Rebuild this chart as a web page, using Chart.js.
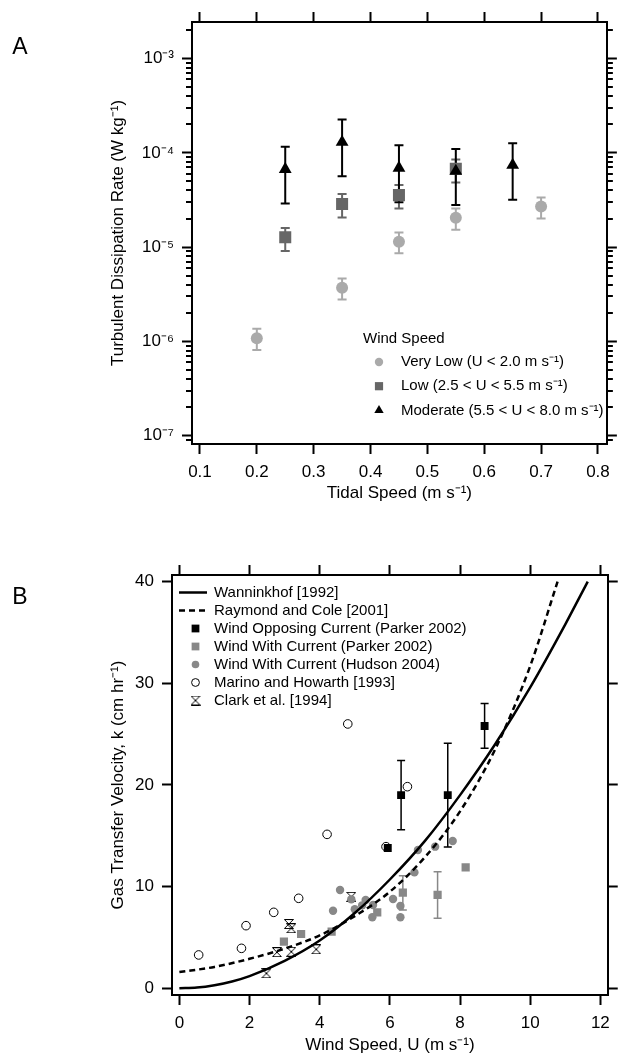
<!DOCTYPE html>
<html>
<head>
<meta charset="utf-8">
<script src="https://cdn.jsdelivr.net/npm/chart.js@4.4.1/dist/chart.umd.min.js"></script>
<style>
  body { margin: 0; background: #fff; }
  #wrap { position: relative; width: 618px; height: 1057px; }
  canvas { position: absolute; left: 0; }
  #panelA { top: 0; }
  #panelB { top: 530px; }
</style>
</head>
<body>
<div id="wrap">
  <canvas id="panelA" width="618" height="530"></canvas>
  <canvas id="panelB" width="618" height="527"></canvas>
</div>
<script>
//Panel A - dissipation rate vs tidal speed
const tidalTicks = [0.1, 0.2, 0.3, 0.4, 0.5, 0.6, 0.7, 0.8];
const tidalTickLabels = ['0.1', '0.2', '0.3', '0.4', '0.5', '0.6', '0.7', '0.8'];
const dissTicks = [1e-7, 1e-6, 1e-5, 1e-4, 1e-3];
const dissTickLabels = ['10⁻⁷', '10⁻⁶', '10⁻⁵', '10⁻⁴', '10⁻³'];

const veryLowTide = [0.2, 0.35, 0.45, 0.55, 0.7];
const veryLowDiss = [1.08e-6, 3.71e-6, 1.14e-5, 2.05e-5, 2.70e-5];
const veryLowErrLow = [8.1e-7, 2.79e-6, 8.6e-6, 1.53e-5, 2.01e-5];
const veryLowErrHigh = [1.36e-6, 4.66e-6, 1.43e-5, 2.57e-5, 3.36e-5];

const lowTide = [0.25, 0.35, 0.45, 0.55];
const lowDiss = [1.27e-5, 2.86e-5, 3.56e-5, 6.76e-5];
const lowErrLow = [9.1e-6, 2.06e-5, 2.57e-5, 4.85e-5];
const lowErrHigh = [1.60e-5, 3.65e-5, 4.57e-5, 8.5e-5];

const modTide = [0.25, 0.35, 0.45, 0.55, 0.65];
const modDiss = [6.7e-5, 1.30e-4, 6.9e-5, 6.4e-5, 7.4e-5];
const modErrLow = [2.9e-5, 5.66e-5, 3.0e-5, 2.79e-5, 3.18e-5];
const modErrHigh = [1.16e-4, 2.25e-4, 1.20e-4, 1.10e-4, 1.26e-4];

//Panel B - gas transfer velocity vs wind speed
const windTicks = [0, 2, 4, 6, 8, 10, 12];
const windTickLabels = ['0', '2', '4', '6', '8', '10', '12'];
const kTicks = [0, 10, 20, 30, 40];
const kTickLabels = ['0', '10', '20', '30', '40'];

const wanninkhofU = [0, 0.5, 1, 1.5, 2, 3, 4, 5, 6, 7, 8, 9, 10, 11, 11.64];
const wanninkhofK = [0, 0.07, 0.3, 0.67, 1.2, 2.7, 4.7, 7.4, 10.7, 14.5, 19.0, 24.0, 29.6, 35.8, 40.0];
const raymondU = [0, 1, 2, 3, 4, 5, 6, 7, 8, 9, 10, 10.78];
const raymondK = [1.6, 2.1, 2.9, 3.9, 5.2, 7.1, 9.5, 12.9, 17.4, 23.5, 31.7, 40.0];

const opposingU = [5.94, 6.32, 7.65, 8.70];
const opposingK = [13.8, 19.0, 19.0, 25.8];
const opposingErrLow = [null, 15.6, 13.9, 23.6];
const opposingErrHigh = [null, 22.4, 24.1, 28.0];

const withParkerU = [2.98, 3.47, 4.34, 5.64, 6.37, 7.36, 8.16];
const withParkerK = [4.59, 5.34, 5.57, 7.47, 9.40, 9.18, 11.9];
const withParkerErrLow = [null, null, null, null, 7.70, 6.88, null];
const withParkerErrHigh = [null, null, null, null, 11.08, 11.47, null];

const hudsonU = [4.38, 4.58, 4.90, 5.00, 5.21, 5.31, 5.50, 5.52, 6.09, 6.30, 6.30, 6.70, 6.80, 7.29, 7.79];
const hudsonK = [7.63, 9.67, 8.75, 7.77, 8.16, 8.69, 6.98, 8.19, 8.78, 8.10, 6.98, 11.4, 13.6, 13.93, 14.49];

const marinoU = [0.55, 1.77, 1.90, 2.69, 3.40, 4.21, 4.80, 5.89, 6.50];
const marinoK = [3.28, 3.93, 6.16, 7.47, 8.85, 15.14, 26.0, 13.93, 19.83];

const clarkU = [2.48, 2.78, 3.12, 3.19, 3.19, 3.90, 4.90];
const clarkK = [1.47, 3.55, 6.32, 5.90, 3.60, 3.83, 9.00];

Chart.defaults.font.family = "'Liberation Sans', Arial, sans-serif";
Chart.defaults.color = '#000';

function points(xs, ys) {
    return xs.map((x, i) => ({x: x, y: ys[i]}));
}

//open hourglass marker for Clark et al.
function hourglass(size) {
    const c = document.createElement('canvas');
    c.width = size;
    c.height = size;
    const g = c.getContext('2d');
    g.strokeStyle = '#000';
    g.lineWidth = 1;
    g.beginPath();
    g.moveTo(0.5, 0.5);
    g.lineTo(size - 0.5, 0.5);
    g.lineTo(0.5, size - 0.5);
    g.lineTo(size - 0.5, size - 0.5);
    g.closePath();
    g.stroke();
    return c;
}

//vertical error bars with caps
const errorBars = {
    id: 'errorBars',
    beforeDatasetsDraw(chart, args, opts) {
        const {ctx} = chart;
        const xs = chart.scales.x, ys = chart.scales.y;
        ctx.save();
        ctx.lineWidth = opts.width;
        chart.data.datasets.forEach(ds => {
            if (!ds.errLow) return;
            ctx.strokeStyle = ds.errColor;
            ds.data.forEach((p, i) => {
                if (ds.errLow[i] == null) return;
                const px = xs.getPixelForValue(p.x);
                const y1 = ys.getPixelForValue(ds.errLow[i]);
                const y2 = ys.getPixelForValue(ds.errHigh[i]);
                ctx.beginPath();
                ctx.moveTo(px, y1);
                ctx.lineTo(px, y2);
                ctx.moveTo(px - opts.cap, y1);
                ctx.lineTo(px + opts.cap, y1);
                ctx.moveTo(px - opts.cap, y2);
                ctx.lineTo(px + opts.cap, y2);
                ctx.stroke();
            });
        });
        ctx.restore();
    }
};

//minor ticks on log axis (2..9 x 10^n)
const minorTicks = {
    id: 'minorTicks',
    afterDraw(chart, args, opts) {
        if (!opts.enabled) return;
        const {ctx, chartArea} = chart;
        const ys = chart.scales.y;
        ctx.save();
        ctx.strokeStyle = '#000';
        ctx.lineWidth = 2;
        for (let e = -8; e <= -2; e++) {
            for (let m = 2; m <= 9; m++) {
                const v = m * Math.pow(10, e);
                if (v < ys.min || v > ys.max) continue;
                const py = Math.round(ys.getPixelForValue(v));
                ctx.beginPath();
                ctx.moveTo(chartArea.left - opts.length, py);
                ctx.lineTo(chartArea.left, py);
                ctx.moveTo(chartArea.right, py);
                ctx.lineTo(chartArea.right + opts.length, py);
                ctx.stroke();
            }
        }
        ctx.restore();
    }
};

//legend drawn inside the plot box, and the panel letter
const boxLegend = {
    id: 'boxLegend',
    afterDraw(chart, args, opts) {
        const {ctx} = chart;
        ctx.save();
        ctx.font = opts.font;
        ctx.textBaseline = 'middle';
        ctx.textAlign = 'left';
        ctx.fillStyle = '#000';
        if (opts.title) ctx.fillText(opts.title, opts.titleX, opts.titleY);
        let y = opts.y;
        chart.data.datasets.forEach(ds => {
            if (ds.showLine) {
                ctx.strokeStyle = ds.borderColor;
                ctx.lineWidth = ds.borderWidth;
                ctx.setLineDash(ds.borderDash || []);
                ctx.beginPath();
                ctx.moveTo(opts.lineX1, y);
                ctx.lineTo(opts.lineX2, y);
                ctx.stroke();
                ctx.setLineDash([]);
            } else {
                ctx.fillStyle = ds.pointBackgroundColor;
                ctx.strokeStyle = ds.pointBorderColor || '#000';
                ctx.lineWidth = ds.pointBorderWidth;
                Chart.helpers.drawPoint(ctx, {
                    pointStyle: ds.pointStyle,
                    radius: ds.legendRadius,
                    borderWidth: ds.pointBorderWidth,
                    rotation: 0
                }, opts.markerX, y);
            }
            ctx.fillStyle = '#000';
            ctx.fillText(ds.label, opts.textX, y);
            y += opts.rowHeight;
        });
        ctx.font = "23px 'Liberation Sans', Arial, sans-serif";
        ctx.textAlign = 'center';
        ctx.fillText(opts.letter, 20, opts.letterY);
        ctx.restore();
    }
};

function axis(type, position, min, max, ticks, labels, size, extra) {
    const horizontal = position === 'top' || position === 'bottom';
    const cfg = {
        type: type,
        position: position,
        min: min,
        max: max,
        afterBuildTicks: s => { s.ticks = ticks.map(v => ({value: v})); },
        afterFit: s => { if (horizontal) s.height = size; else s.width = size; },
        ticks: {
            display: !!labels,
            callback: (v, i) => labels ? labels[i] : '',
            autoSkip: false,
            maxRotation: 0,
            padding: 8,
            font: {size: 17}
        },
        grid: {drawOnChartArea: false, drawTicks: true, tickLength: 10, tickWidth: 2, tickColor: '#000'},
        border: {display: true, color: '#000', width: 2}
    };
    return Object.assign(cfg, extra || {});
}

//Panel A
new Chart(document.getElementById('panelA'), {
    type: 'scatter',
    data: {
        datasets: [
            {
                label: 'Very Low (U < 2.0 m s⁻¹)',
                data: points(veryLowTide, veryLowDiss),
                pointStyle: 'circle',
                pointRadius: 6,
                pointBackgroundColor: '#aaaaaa',
                pointBorderWidth: 0,
                legendRadius: 4.2,
                errLow: veryLowErrLow,
                errHigh: veryLowErrHigh,
                errColor: '#aaaaaa',
                order: 2
            },
            {
                label: 'Low (2.5 < U < 5.5 m s⁻¹)',
                data: points(lowTide, lowDiss),
                pointStyle: 'rect',
                pointRadius: 8.5,
                pointBackgroundColor: '#666666',
                pointBorderWidth: 0,
                legendRadius: 5.8,
                errLow: lowErrLow,
                errHigh: lowErrHigh,
                errColor: '#666666',
                order: 1
            },
            {
                label: 'Moderate (5.5 < U < 8.0 m s⁻¹)',
                data: points(modTide, modDiss),
                pointStyle: 'triangle',
                pointRadius: 7.4,
                pointBackgroundColor: '#000000',
                pointBorderWidth: 0,
                legendRadius: 5.4,
                errLow: modErrLow,
                errHigh: modErrHigh,
                errColor: '#000000',
                order: 0
            }
        ]
    },
    options: {
        responsive: false,
        animation: false,
        layout: {padding: 0},
        scales: {
            x: axis('linear', 'bottom', 0.086, 0.8157, tidalTicks, tidalTickLabels, 86, {
                title: {display: true, text: 'Tidal Speed (m s⁻¹)', font: {size: 17}, padding: {top: 0, bottom: 26}}
            }),
            x2: axis('linear', 'top', 0.086, 0.8157, tidalTicks, null, 22),
            y: axis('logarithmic', 'left', 8.17e-8, 2.44e-3, dissTicks, dissTickLabels, 192, {
                title: {display: true, text: 'Turbulent Dissipation Rate (W kg⁻¹)', font: {size: 17}, padding: {top: 108, bottom: 0}}
            }),
            y2: axis('logarithmic', 'right', 8.17e-8, 2.44e-3, dissTicks, null, 7)
        },
        plugins: {
            legend: {display: false},
            tooltip: {enabled: false},
            errorBars: {width: 2, cap: 4.5},
            minorTicks: {enabled: true, length: 6},
            boxLegend: {
                font: "15px 'Liberation Sans', Arial, sans-serif",
                title: 'Wind Speed', titleX: 363, titleY: 339,
                y: 362, rowHeight: 24.2,
                markerX: 379, textX: 401,
                letter: 'A', letterY: 48
            }
        }
    },
    plugins: [errorBars, minorTicks, boxLegend]
});

//Panel B
new Chart(document.getElementById('panelB'), {
    type: 'scatter',
    data: {
        datasets: [
            {
                label: 'Wanninkhof [1992]',
                data: points(wanninkhofU, wanninkhofK),
                showLine: true,
                borderColor: '#000',
                borderWidth: 2.5,
                pointRadius: 0,
                cubicInterpolationMode: 'monotone'
            },
            {
                label: 'Raymond and Cole [2001]',
                data: points(raymondU, raymondK),
                showLine: true,
                borderColor: '#000',
                borderWidth: 2.5,
                borderDash: [6, 4],
                pointRadius: 0,
                cubicInterpolationMode: 'monotone'
            },
            {
                label: 'Wind Opposing Current (Parker 2002)',
                data: points(opposingU, opposingK),
                pointStyle: 'rect',
                pointRadius: 5.6,
                pointBackgroundColor: '#000000',
                pointBorderWidth: 0,
                legendRadius: 5.5,
                errLow: opposingErrLow,
                errHigh: opposingErrHigh,
                errColor: '#000000'
            },
            {
                label: 'Wind With Current (Parker 2002)',
                data: points(withParkerU, withParkerK),
                pointStyle: 'rect',
                pointRadius: 5.8,
                pointBackgroundColor: '#888888',
                pointBorderWidth: 0,
                legendRadius: 5.5,
                errLow: withParkerErrLow,
                errHigh: withParkerErrHigh,
                errColor: '#888888'
            },
            {
                label: 'Wind With Current (Hudson 2004)',
                data: points(hudsonU, hudsonK),
                pointStyle: 'circle',
                pointRadius: 4.2,
                pointBackgroundColor: '#888888',
                pointBorderWidth: 0,
                legendRadius: 3.8
            },
            {
                label: 'Marino and Howarth [1993]',
                data: points(marinoU, marinoK),
                pointStyle: 'circle',
                pointRadius: 4.3,
                pointBackgroundColor: 'rgba(255,255,255,0)',
                pointBorderColor: '#000000',
                pointBorderWidth: 1,
                legendRadius: 3.9
            },
            {
                label: 'Clark et al. [1994]',
                data: points(clarkU, clarkK),
                pointStyle: hourglass(10),
                pointRadius: 5,
                pointBackgroundColor: 'rgba(255,255,255,0)',
                pointBorderWidth: 0,
                legendRadius: 4
            }
        ]
    },
    options: {
        responsive: false,
        animation: false,
        layout: {padding: 0},
        scales: {
            x: axis('linear', 'bottom', -0.21, 12.21, windTicks, windTickLabels, 62, {
                title: {display: true, text: 'Wind Speed, U (m s⁻¹)', font: {size: 17}, padding: {top: 0, bottom: 1}}
            }),
            x2: axis('linear', 'top', -0.21, 12.21, windTicks, null, 45),
            y: axis('linear', 'left', -0.66, 40.65, kTicks, kTickLabels, 172, {
                title: {display: true, text: 'Gas Transfer Velocity, k (cm hr⁻¹)', font: {size: 17}, padding: {top: 108, bottom: 0}}
            }),
            y2: axis('linear', 'right', -0.66, 40.65, kTicks, null, 7)
        },
        plugins: {
            legend: {display: false},
            tooltip: {enabled: false},
            errorBars: {width: 1.5, cap: 4},
            minorTicks: {enabled: false},
            boxLegend: {
                font: "15px 'Liberation Sans', Arial, sans-serif",
                y: 62.5, rowHeight: 18,
                lineX1: 179, lineX2: 207,
                markerX: 195.5, textX: 214,
                letter: 'B', letterY: 68
            }
        }
    },
    plugins: [errorBars, minorTicks, boxLegend]
});
</script>
</body>
</html>
